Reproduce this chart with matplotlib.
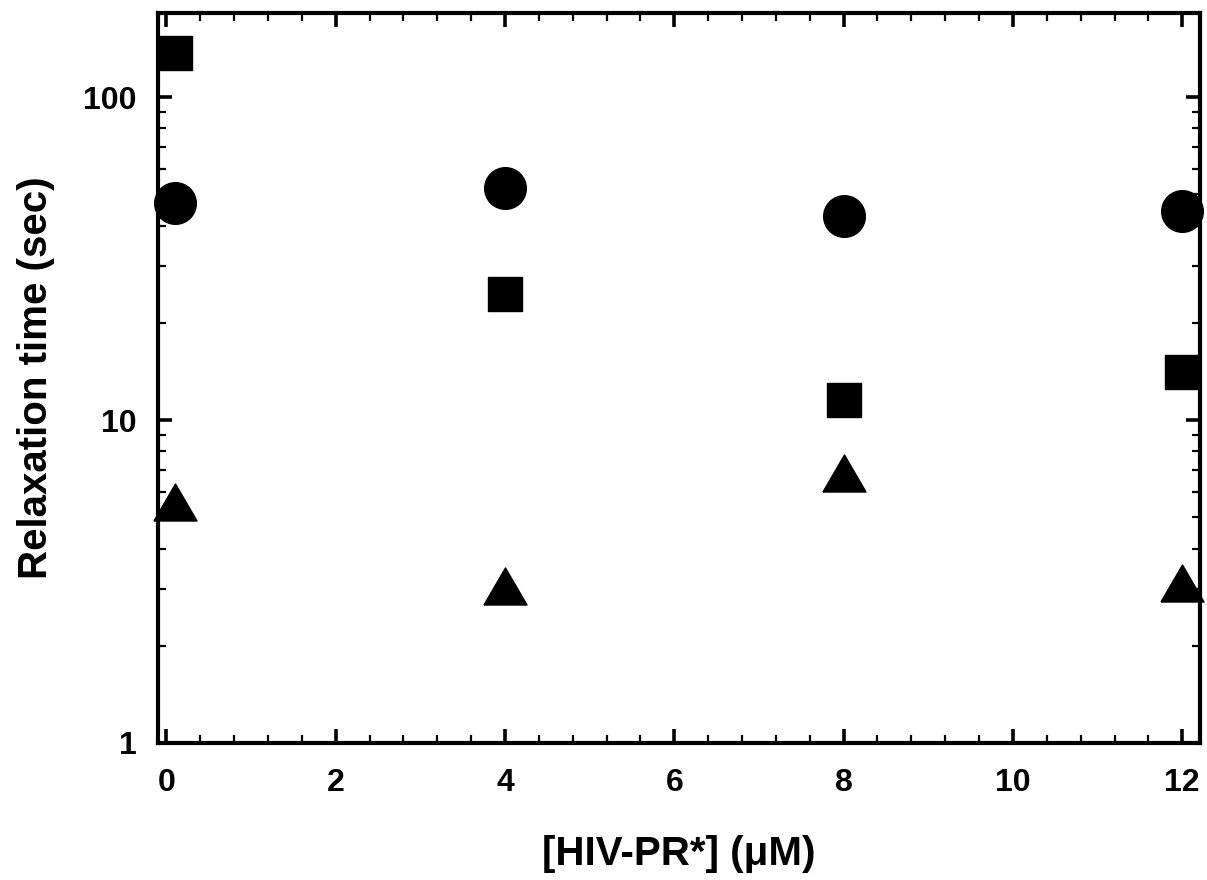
import numpy as np
import matplotlib
matplotlib.use("Agg")
import matplotlib.pyplot as plt
from matplotlib.ticker import MultipleLocator, LogLocator, NullFormatter, FixedLocator, FixedFormatter

plt.rcParams['font.family'] = ['Liberation Sans', 'DejaVu Sans']
plt.rcParams['font.weight'] = 'bold'

# data
conc = [0.1, 4, 8, 12]
tau_circle = [46.9, 52.1, 42.8, 44.5]
tau_square = [137, 24.5, 11.5, 14.1]
tau_triangle = [5.56, 3.07, 6.86, 3.13]

fig = plt.figure(figsize=(12.07, 8.8), dpi=100)
ax = fig.add_axes([0.1309, 0.1557, 0.8633, 0.8295])

# triangle a bit wider than tall, like the original
tri = [(-1, -0.86), (1, -0.86), (0, 0.86), (-1, -0.86)]

ax.plot(conc, tau_circle, linestyle='none', marker='o', markersize=30,
        color='black', clip_on=False, zorder=3)
ax.plot(conc, tau_square, linestyle='none', marker='s', markersize=25,
        color='black', clip_on=False, zorder=3)
ax.plot(conc, tau_triangle, linestyle='none', marker=tri, markersize=31,
        color='black', clip_on=False, zorder=3)

ax.set_yscale('log')
ax.set_xlim(-0.1, 12.21)
ax.set_ylim(1, 182)

ax.xaxis.set_major_locator(MultipleLocator(2))
ax.xaxis.set_minor_locator(MultipleLocator(0.4))
ax.yaxis.set_major_locator(FixedLocator([1, 10, 100]))
ax.yaxis.set_major_formatter(FixedFormatter(['1', '10', '100']))
ax.yaxis.set_minor_locator(LogLocator(base=10, subs=np.arange(2, 10)))
ax.yaxis.set_minor_formatter(NullFormatter())

for s in ax.spines.values():
    s.set_linewidth(3)

ax.tick_params(which='both', direction='in', top=True, right=True)
ax.tick_params(which='major', length=10, width=2.6, labelsize=23)
ax.tick_params(which='minor', length=6, width=1.6)
ax.tick_params(axis='x', which='major', pad=18)
ax.tick_params(axis='y', which='major', pad=15.5)

ax.set_xlabel('[HIV-PR*] (\u03bcM)', fontsize=29, fontweight='bold', labelpad=27)
ax.set_ylabel('Relaxation time (sec)', fontsize=29, fontweight='bold', labelpad=20)

fig.savefig('out.png', dpi=100)
